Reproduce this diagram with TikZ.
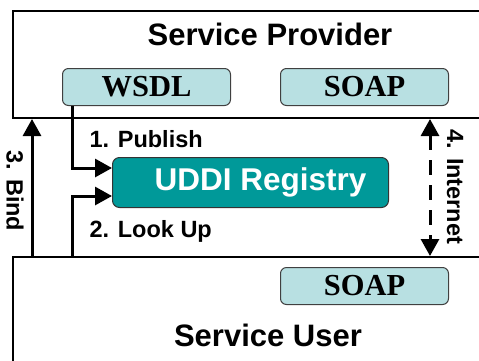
\documentclass[tikz,border=0pt]{standalone}
\usepackage{fontspec}
\setmainfont{Liberation Sans}
\newfontfamily\protofont{Liberation Serif}
\usetikzlibrary{arrows.meta,positioning}
\definecolor{protofill}{HTML}{B8E0E2}
\definecolor{regfill}{HTML}{009999}
\tikzset{party/.style = {draw=black, line width=2pt, anchor=north west, inner sep=0pt},
        party title/.style = {font=\fontsize{31}{36}\selectfont\bfseries},
        proto/.style = {draw=black!75, fill=protofill, rounded corners=6pt, line width=1pt,
                        minimum width=168pt, minimum height=37pt, anchor=north west,
                        font=\protofont\fontsize{30.5}{34}\selectfont\bfseries},
        registry/.style = {draw=black!80, fill=regfill, rounded corners=7pt, line width=1pt,
                           minimum width=276pt, minimum height=50pt, anchor=north west,
                           text=white, font=\fontsize{31.5}{36}\selectfont\bfseries},
        tip/.tip = {Triangle[width=18pt,length=17pt]},
        flow/.style = {line width=3pt, -tip},
        internet/.style = {line width=3pt, tip-tip, dash pattern=on 15pt off 10pt},
        lbl/.style = {font=\fontsize{23.5}{28}\selectfont\bfseries},
        }

\begin{document}
\begin{tikzpicture}[x=1pt,y=-1pt]
    \useasboundingbox (0,0) rectangle (479,360);
    \clip (0,0) rectangle (479,360);

    % provider side
    \node[party, minimum width=500pt, minimum height=107pt] (provider) at (12,10) {};
    \node[party title] (providertitle) at (270,34) {Service Provider};
    \node[proto] (wsdl) at (62,68) {WSDL};
    \node[proto] (soap) at (280,68) {SOAP};

    % registry
    \node[registry] (uddi) at (112,157) {\hspace*{20pt}UDDI Registry};

    % user side
    \node[party, minimum width=500pt, minimum height=130pt] (user) at (12,256) {};
    \node[proto] (usersoap) at (280,267) {SOAP};
    \node[party title] (usertitle) at (268,335) {Service User};

    \draw [flow] (wsdl.south -| 72,0) |- (uddi.west |- 0,168);
    \draw [flow] (user.north -| 72,0) |- (uddi.west |- 0,196);
    \draw [flow] (user.north -| 32,0) -- (provider.south -| 32,0);
    \draw [internet] (provider.south -| 430,0) -- (user.north -| 430,0);

    \node[lbl, anchor=base west] (publishlbl) at (86,147) {1. Publish};
    \node[lbl, anchor=base west] (lookuplbl) at (86,237) {2. Look Up};
    \node[lbl, rotate=-90] (bindlbl) at (15,191) {3. Bind};
    \node[lbl, rotate=-90] (internetlbl) at (455,187) {4. Internet};

\end{tikzpicture}
\end{document}
